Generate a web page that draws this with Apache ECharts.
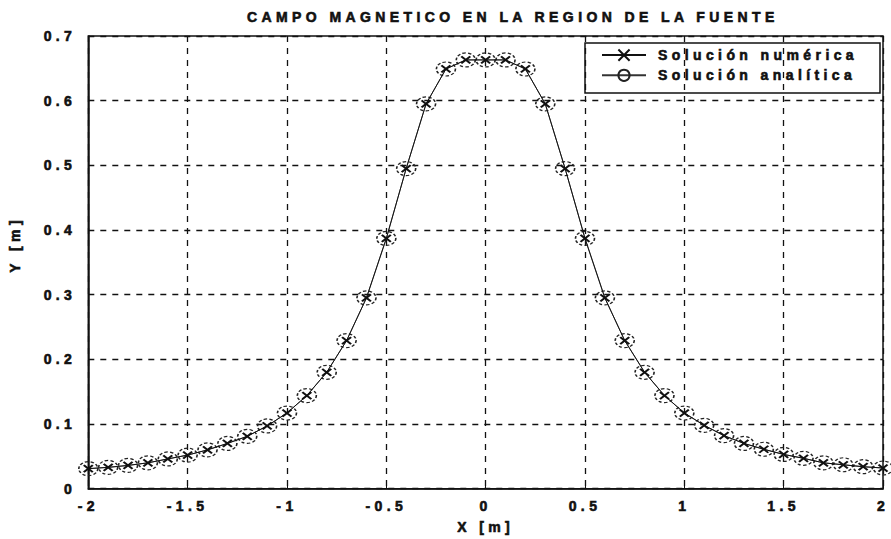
<!DOCTYPE html>
<html>
<head>
<meta charset="utf-8">
<script src="https://cdn.jsdelivr.net/npm/echarts@6/dist/echarts.min.js"></script>
<style>
  html, body { margin: 0; padding: 0; background: #fff; }
  #chart { width: 891px; height: 539px; }
  /* wide letter spacing of the labels */
  #chart svg text { letter-spacing: 4.4px; }
</style>
</head>
<body>
<div id="chart"></div>
<script>
// Positions along the source axis (m)
var xPositions = [-2.0, -1.9, -1.8, -1.7, -1.6, -1.5, -1.4, -1.3, -1.2, -1.1,
                  -1.0, -0.9, -0.8, -0.7, -0.6, -0.5, -0.4, -0.3, -0.2, -0.1,
                   0.0,  0.1,  0.2,  0.3,  0.4,  0.5,  0.6,  0.7,  0.8,  0.9,
                   1.0,  1.1,  1.2,  1.3,  1.4,  1.5,  1.6,  1.7,  1.8,  1.9, 2.0];

// Numerical solution
var numericValues = [0.031, 0.033, 0.036, 0.040, 0.046, 0.052, 0.060, 0.070, 0.081, 0.097,
                     0.117, 0.144, 0.180, 0.229, 0.295, 0.387, 0.495, 0.595, 0.649, 0.663,
                     0.663, 0.663, 0.649, 0.595, 0.495, 0.387, 0.295, 0.229, 0.180, 0.144,
                     0.117, 0.098, 0.082, 0.070, 0.061, 0.053, 0.047, 0.040, 0.037, 0.034, 0.032];

// Analytical solution
var analyticValues = [0.031, 0.033, 0.036, 0.040, 0.046, 0.052, 0.060, 0.070, 0.081, 0.097,
                      0.117, 0.144, 0.180, 0.229, 0.295, 0.387, 0.495, 0.595, 0.649, 0.663,
                      0.663, 0.663, 0.649, 0.595, 0.495, 0.387, 0.295, 0.229, 0.180, 0.144,
                      0.117, 0.098, 0.082, 0.070, 0.061, 0.053, 0.047, 0.040, 0.037, 0.034, 0.032];

var seriesNames = ['Solución numérica', 'Solución analítica'];
var titleText = 'CAMPO MAGNETICO EN LA REGION DE LA FUENTE';
var xName = 'X [m]';
var yName = 'Y [m]';

function pairs(xs, ys) {
  return xs.map(function (x, i) { return [x, ys[i]]; });
}

var FONT = "'Liberation Sans', Arial, sans-serif";
var INK = '#111';
// heavy bold lettering: bold face plus a thin outline in the same ink
var textBase = {
  fontFamily: FONT, fontWeight: 'bold', fontSize: 14, color: INK,
  textBorderColor: INK, textBorderWidth: 0.6
};

var chart = echarts.init(document.getElementById('chart'), null, { renderer: 'svg' });

chart.setOption({
  animation: false,
  backgroundColor: '#fff',
  title: {
    text: titleText,
    left: 242,
    top: 5,
    textStyle: textBase
  },
  grid: {
    left: 83, right: 8, top: 36, bottom: 48,
    show: true, borderColor: INK, borderWidth: 1.5, backgroundColor: 'transparent'
  },
  legend: {
    orient: 'vertical',
    left: 596,
    top: 42,
    itemWidth: 44,
    itemHeight: 14,
    itemGap: 4,
    data: seriesNames,
    textStyle: Object.assign({}, textBase, { padding: [0, 0, 0, 7] })
  },
  graphic: [{
    type: 'rect',
    shape: { x: 585, y: 43, width: 295, height: 50 },
    style: { fill: 'none', stroke: INK, lineWidth: 1.5 },
    z: 10
  }],
  xAxis: {
    type: 'value',
    min: -2, max: 2, interval: 0.5,
    name: xName,
    nameLocation: 'middle',
    nameGap: 31,
    nameTextStyle: textBase,
    axisLine: { show: true, lineStyle: { color: INK, width: 1.5 } },
    axisTick: { show: true, inside: true, length: 5, lineStyle: { color: INK } },
    axisLabel: Object.assign({ margin: 10 }, textBase),
    splitLine: { show: true, lineStyle: { color: INK, type: [6, 6], width: 1.3 } }
  },
  yAxis: {
    type: 'value',
    min: 0, max: 0.7, interval: 0.1,
    name: yName,
    nameLocation: 'middle',
    nameGap: 66,
    nameTextStyle: Object.assign({}, textBase, { padding: [0, 0, 0, 36] }),
    axisLine: { show: true, onZero: false, lineStyle: { color: INK, width: 1.5 } },
    axisTick: { show: true, inside: true, length: 5, lineStyle: { color: INK } },
    axisLabel: Object.assign({ margin: 12 }, textBase),
    splitLine: { show: true, lineStyle: { color: INK, type: [6, 6], width: 1.3 } }
  },
  series: [
    {
      name: seriesNames[0],
      type: 'line',
      data: pairs(xPositions, numericValues),
      symbol: 'path://M0,0L10,7M10,0L0,7',
      symbolSize: [9, 7],
      showAllSymbol: true,
      lineStyle: { color: INK, width: 1 },
      itemStyle: { color: 'none', borderColor: INK, borderWidth: 2 },
      z: 3
    },
    {
      name: seriesNames[1],
      type: 'line',
      data: pairs(xPositions, analyticValues),
      symbol: 'circle',
      symbolSize: [19, 14],
      showAllSymbol: true,
      lineStyle: { color: '#333', width: 0.8 },
      itemStyle: { color: 'none', borderColor: '#222', borderWidth: 1.4, borderType: [3, 2] },
      z: 2
    }
  ]
});
</script>
</body>
</html>
